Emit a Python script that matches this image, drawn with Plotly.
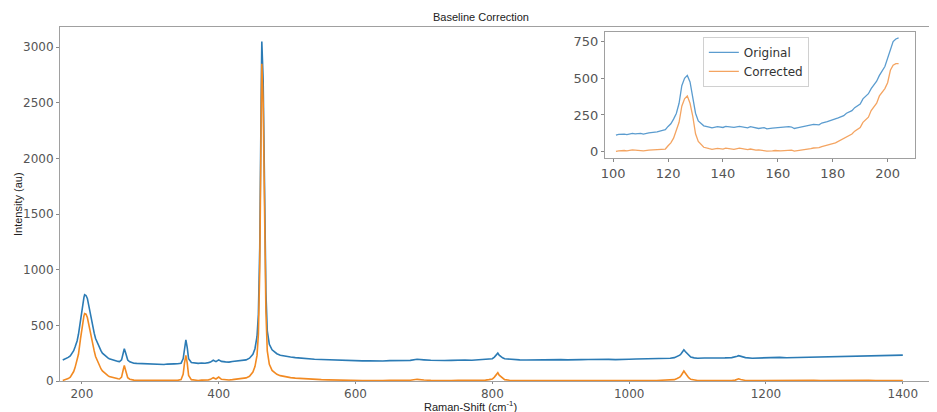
import plotly.graph_objects as go

# ---- main spectrum (Raman shift, cm^-1) ----
main_x = [172, 176, 180, 183, 185, 188, 190, 193, 195, 198, 201, 203, 204, 206, 208, 211, 213, 215, 218, 220, 223, 225, 228, 230, 233, 235, 238, 240, 243, 245, 248, 250, 253, 255, 258, 260, 262, 264, 267, 270, 272, 276, 280, 285, 290, 295, 300, 305, 310, 315, 320, 325, 330, 335, 340, 345, 348, 350, 352, 354, 356, 360, 365, 370, 375, 380, 385, 388, 392, 396, 400, 404, 410, 415, 420, 425, 430, 435, 440, 445, 450, 453, 456, 458, 460, 462, 463, 465, 467, 469, 471, 474, 478, 482, 485, 490, 495, 500, 505, 512, 520, 530, 540, 550, 560, 570, 580, 590, 600, 610, 620, 630, 640, 650, 660, 670, 680, 690, 695, 700, 710, 720, 730, 740, 750, 760, 770, 780, 790, 795, 800, 803, 806, 808, 810, 812, 815, 818, 825, 830, 840, 850, 860, 870, 880, 890, 900, 910, 920, 930, 940, 950, 960, 970, 980, 990, 1000, 1010, 1020, 1030, 1040, 1050, 1060, 1066, 1070, 1074, 1076, 1078, 1080, 1082, 1084, 1087, 1090, 1095, 1100, 1110, 1120, 1130, 1140, 1150, 1155, 1158, 1160, 1163, 1166, 1170, 1180, 1190, 1200, 1210, 1220, 1230, 1240, 1250, 1260, 1270, 1280, 1290, 1300, 1310, 1320, 1330, 1340, 1350, 1360, 1370, 1380, 1385, 1390, 1395, 1400]

original = [188, 198, 212, 226, 242, 272, 305, 360, 420, 560, 700, 752, 775, 768, 742, 640, 572, 500, 430, 382, 336, 302, 270, 250, 232, 220, 208, 200, 193, 190, 184, 180, 176, 174, 190, 240, 290, 252, 188, 172, 166, 160, 158, 156, 154, 157, 150, 153, 152, 149, 148, 152, 150, 154, 155, 160, 200, 300, 370, 300, 200, 166, 160, 158, 162, 160, 165, 170, 186, 174, 190, 176, 172, 170, 175, 178, 180, 186, 190, 205, 240, 290, 400, 600, 1200, 2500, 3050, 2700, 1600, 800, 450, 330, 280, 258, 245, 232, 225, 220, 215, 210, 205, 200, 195, 193, 190, 187, 185, 184, 183, 181, 182, 180, 180, 183, 182, 186, 185, 195, 190, 190, 186, 182, 184, 185, 189, 188, 187, 190, 192, 196, 200, 215, 235, 250, 232, 220, 208, 200, 195, 192, 190, 188, 190, 186, 190, 192, 192, 190, 188, 192, 193, 195, 192, 194, 192, 196, 195, 197, 198, 197, 200, 201, 205, 210, 220, 232, 245, 262, 280, 265, 250, 228, 215, 208, 205, 206, 205, 207, 208, 210, 215, 222, 228, 222, 215, 210, 205, 208, 210, 212, 212, 209, 210, 213, 212, 214, 215, 217, 218, 220, 222, 220, 225, 222, 222, 226, 228, 224, 225, 228, 232]

corrected = [5, 12, 22, 35, 55, 85, 120, 180, 240, 380, 530, 585, 605, 600, 570, 470, 400, 340, 270, 220, 175, 140, 108, 90, 72, 60, 48, 40, 34, 30, 25, 22, 20, 18, 35, 90, 140, 95, 30, 16, 12, 8, 6, 6, 5, 7, 3, 5, 6, 3, 2, 5, 4, 6, 6, 12, 60, 160, 230, 160, 50, 12, 7, 5, 8, 6, 10, 15, 30, 18, 35, 15, 10, 9, 12, 15, 18, 22, 28, 42, 80, 130, 230, 420, 1000, 2300, 2850, 2500, 1420, 620, 270, 150, 95, 72, 60, 48, 40, 35, 30, 26, 22, 18, 15, 12, 10, 8, 6, 5, 4, 4, 5, 3, 4, 6, 5, 8, 7, 15, 10, 9, 6, 4, 5, 5, 7, 6, 5, 6, 8, 12, 18, 35, 58, 75, 52, 40, 22, 12, 7, 5, 4, 3, 5, 3, 4, 5, 4, 3, 2, 4, 3, 5, 3, 4, 3, 4, 3, 4, 4, 3, 5, 6, 8, 12, 22, 35, 50, 70, 90, 72, 55, 30, 15, 8, 5, 4, 3, 4, 5, 4, 8, 14, 20, 14, 8, 5, 3, 4, 5, 6, 5, 3, 4, 6, 5, 6, 5, 6, 7, 8, 6, 5, 7, 6, 4, 6, 7, 4, 5, 4, 5]

# ---- inset (zoom on first region) ----
inset_x = [101, 102, 104, 105, 107, 108, 110, 111, 113, 115, 116, 118, 119, 120, 121, 122, 123, 124, 125, 126, 127, 128, 129, 130, 131, 132, 133, 135, 136, 138, 140, 141, 143, 144, 146, 147, 149, 150, 152, 153, 155, 156, 158, 159, 161, 162, 164, 165, 166, 167, 169, 170, 172, 173, 175, 176, 178, 179, 181, 182, 184, 185, 187, 188, 190, 191, 193, 194, 196, 197, 199, 200, 201, 202, 203, 204]

inset_original = [112, 118, 120, 116, 124, 122, 125, 120, 128, 130, 135, 145, 150, 172, 190, 222, 260, 330, 450, 500, 520, 475, 380, 262, 210, 190, 176, 168, 162, 170, 165, 172, 168, 165, 172, 168, 162, 170, 160, 158, 164, 155, 160, 162, 168, 166, 170, 168, 158, 162, 170, 175, 180, 186, 183, 195, 205, 210, 220, 230, 245, 262, 280, 300, 325, 360, 395, 430, 480, 520, 580, 640, 700, 750, 768, 775]

inset_corrected = [2, 6, 8, 5, 12, 10, 8, 6, 10, 12, 12, 15, 18, 40, 60, 92, 140, 200, 310, 360, 380, 330, 240, 122, 70, 48, 30, 20, 16, 22, 18, 24, 20, 16, 24, 20, 14, 18, 10, 12, 8, 4, 6, 8, 5, 6, 8, 10, 4, 6, 10, 15, 20, 25, 28, 35, 42, 50, 60, 70, 85, 100, 120, 140, 165, 200, 235, 280, 330, 380, 430, 470, 555, 590, 600, 600]

x_ticks = [200, 400, 600, 800, 1000, 1200, 1400]
y_ticks = [0, 500, 1000, 1500, 2000, 2500, 3000]
inset_x_ticks = [100, 120, 140, 160, 180, 200]
inset_y_ticks = [0, 250, 500, 750]

BLUE = "#2b7bb5"
ORANGE = "#f28a22"
BLUE_I = "#5b9ccf"
ORANGE_I = "#f4a461"
TICK_FONT = dict(family="DejaVu Sans", size=12, color="#555555")
INSET_TICK_FONT = dict(family="DejaVu Sans", size=13, color="#555555")
FRAME = "#a0a0a0"

# page body has an 8px default margin: figure is sized so it ends at the window edge
W, H = 929, 404

fig = go.Figure()
fig.add_trace(go.Scatter(x=main_x, y=original, mode="lines", line=dict(color=BLUE, width=1.6),
                         showlegend=False, xaxis="x", yaxis="y"))
fig.add_trace(go.Scatter(x=main_x, y=corrected, mode="lines", line=dict(color=ORANGE, width=1.6),
                         showlegend=False, xaxis="x", yaxis="y"))
fig.add_trace(go.Scatter(x=inset_x, y=inset_original, mode="lines", name="Original",
                         line=dict(color=BLUE_I, width=1.3), xaxis="x2", yaxis="y2"))
fig.add_trace(go.Scatter(x=inset_x, y=inset_corrected, mode="lines", name="Corrected",
                         line=dict(color=ORANGE_I, width=1.3), xaxis="x2", yaxis="y2"))

axis_common = dict(showgrid=False, zeroline=False, showline=True, linecolor=FRAME, linewidth=1,
                   mirror=True, ticks="outside", tickcolor="#888888")

fig.update_layout(
    width=W, height=H,
    margin=dict(l=52, r=0, t=19, b=31),
    paper_bgcolor="white", plot_bgcolor="white",
    title=dict(text="Baseline Correction", xref="container", x=473 / W, xanchor="center",
               yref="container", y=1 - 9 / H, yanchor="middle",
               font=dict(family="Liberation Sans", size=11, color="#222222")),
    xaxis=dict(domain=[0, 1], range=[168, 1450], tickvals=x_ticks, tickfont=TICK_FONT,
               ticklen=2, **axis_common),
    yaxis=dict(domain=[0, 1], range=[0, 3180], tickvals=y_ticks, tickfont=TICK_FONT,
               ticklen=3, **axis_common),
    xaxis2=dict(domain=[0.6214, 0.975], range=[97, 210], tickvals=inset_x_ticks, anchor="y2",
                tickfont=INSET_TICK_FONT, ticklen=3, **axis_common),
    yaxis2=dict(domain=[0.630, 0.986], range=[-43, 816], tickvals=inset_y_ticks, anchor="x2",
                tickfont=INSET_TICK_FONT, ticklen=3, **axis_common),
    legend=dict(x=0.733, y=0.972, xanchor="left", yanchor="top",
                bgcolor="rgba(255,255,255,0.9)", bordercolor="#d0d0d0", borderwidth=1,
                font=dict(family="DejaVu Sans", size=12, color="#333333"),
                tracegroupgap=0, itemwidth=30),
    annotations=[
        dict(text="Raman-Shift (cm<sup>-1</sup>)", xref="paper", yref="paper",
             x=0.468, y=-(406 - 381) / 354, xanchor="center", yanchor="middle", showarrow=False,
             font=dict(family="Liberation Sans", size=11, color="#222222")),
        dict(text="Intensity (au)", xref="paper", yref="paper",
             x=-(60 - 18) / 877, y=0.5, xanchor="center", yanchor="middle", textangle=-90,
             showarrow=False, font=dict(family="Liberation Sans", size=11, color="#222222")),
    ],
)

fig.write_html("out.html")
